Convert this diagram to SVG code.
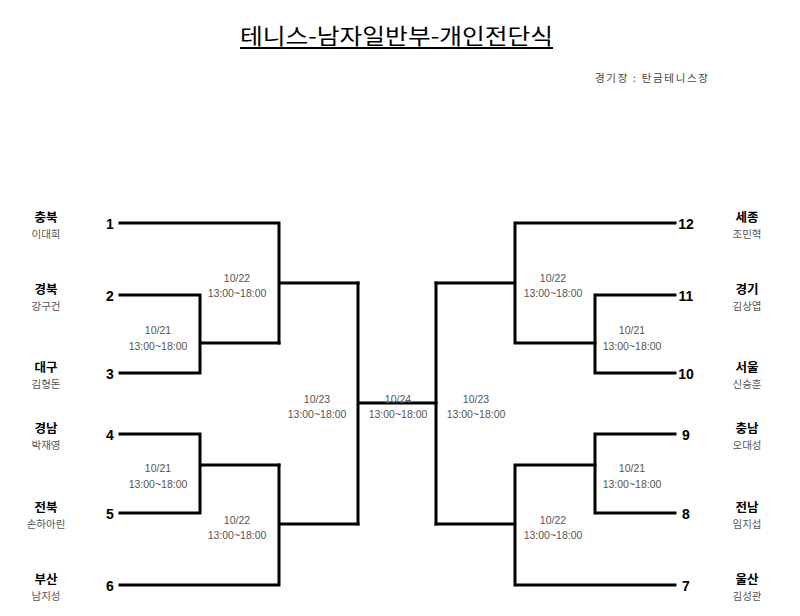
<svg xmlns="http://www.w3.org/2000/svg" width="800" height="616" viewBox="0 0 800 616">
<style>
.ln{fill:none;stroke:#000;stroke-width:3;stroke-linecap:square;stroke-linejoin:miter}
.ttl{font-family:"Noto Sans CJK KR","Noto Sans",sans-serif;font-size:22px;fill:#000}
.venue{font-family:"Noto Sans CJK KR","Noto Sans",sans-serif;font-size:10.5px;fill:#444}
.num{font-family:"Liberation Sans",Arial,sans-serif;font-size:14px;font-weight:bold;fill:#000;text-anchor:middle}
.reg{font-family:"Noto Sans CJK KR",sans-serif;font-size:12.5px;font-weight:bold;fill:#000;text-anchor:middle}
.per{font-family:"Noto Sans CJK KR",sans-serif;font-size:10.5px;fill:#555;text-anchor:middle}
.dt{font-family:"Liberation Sans",Arial,sans-serif;font-size:10.5px;fill:#555;text-anchor:middle}
</style>
<rect width="800" height="616" fill="#fff"/>
<g id="title">
<text class="ttl" x="240" y="44" textLength="313" lengthAdjust="spacingAndGlyphs">테니스-남자일반부-개인전단식</text>
<rect x="240" y="47" width="313" height="2" fill="#000"/>
<text class="venue" x="595" y="82" textLength="113" lengthAdjust="spacing">경기장 : 탄금테니스장</text>
</g>
<g id="connectors">
<path class="ln" d="M120,295 H200 V373 H120 M200,343 H279"/>
<path class="ln" d="M120,223 H279 V343 M279,283 H358"/>
<path class="ln" d="M120,434 H200 V513 H120 M200,465 H279"/>
<path class="ln" d="M120,585 H279 V465 M279,524 H358"/>
<path class="ln" d="M358,283 V524 M358,403 H436"/>
<path class="ln" d="M436,283 V524"/>
<path class="ln" d="M436,283 H515 M675,223 H515 V343 H595"/>
<path class="ln" d="M675,295 H595 V373 H675"/>
<path class="ln" d="M436,524 H515 M675,585 H515 V465 H595"/>
<path class="ln" d="M675,434 H595 V513 H675"/>
</g>
<g id="p1"><text class="reg" x="46" y="222">충북</text><text class="per" x="46" y="238">이대희</text><text class="num" x="110" y="229">1</text></g>
<g id="p2"><text class="reg" x="46" y="294">경북</text><text class="per" x="46" y="310">강구건</text><text class="num" x="110" y="301">2</text></g>
<g id="p3"><text class="reg" x="46" y="372">대구</text><text class="per" x="46" y="388">김형돈</text><text class="num" x="110" y="379">3</text></g>
<g id="p4"><text class="reg" x="46" y="433">경남</text><text class="per" x="46" y="449">박재영</text><text class="num" x="110" y="440">4</text></g>
<g id="p5"><text class="reg" x="46" y="512">전북</text><text class="per" x="46" y="528">손하아린</text><text class="num" x="110" y="519">5</text></g>
<g id="p6"><text class="reg" x="46" y="584">부산</text><text class="per" x="46" y="600">남지성</text><text class="num" x="110" y="591">6</text></g>
<g id="p12"><text class="reg" x="747" y="222">세종</text><text class="per" x="747" y="238">조민혁</text><text class="num" x="686" y="229">12</text></g>
<g id="p11"><text class="reg" x="747" y="294">경기</text><text class="per" x="747" y="310">김상엽</text><text class="num" x="686" y="301">11</text></g>
<g id="p10"><text class="reg" x="747" y="372">서울</text><text class="per" x="747" y="388">신승훈</text><text class="num" x="686" y="379">10</text></g>
<g id="p9"><text class="reg" x="747" y="433">충남</text><text class="per" x="747" y="449">오대성</text><text class="num" x="686" y="440">9</text></g>
<g id="p8"><text class="reg" x="747" y="512">전남</text><text class="per" x="747" y="528">임지섭</text><text class="num" x="686" y="519">8</text></g>
<g id="p7"><text class="reg" x="747" y="584">울산</text><text class="per" x="747" y="600">김성관</text><text class="num" x="686" y="591">7</text></g>
<g id="dates">
<text class="dt" x="237" y="282">10/22</text><text class="dt" x="237" y="297">13:00~18:00</text>
<text class="dt" x="158" y="334">10/21</text><text class="dt" x="158" y="350">13:00~18:00</text>
<text class="dt" x="158" y="472">10/21</text><text class="dt" x="158" y="488">13:00~18:00</text>
<text class="dt" x="237" y="524">10/22</text><text class="dt" x="237" y="539">13:00~18:00</text>
<text class="dt" x="317" y="403">10/23</text><text class="dt" x="317" y="418">13:00~18:00</text>
<text class="dt" x="398" y="403">10/24</text><text class="dt" x="398" y="418">13:00~18:00</text>
<text class="dt" x="476" y="403">10/23</text><text class="dt" x="476" y="418">13:00~18:00</text>
<text class="dt" x="553" y="282">10/22</text><text class="dt" x="553" y="297">13:00~18:00</text>
<text class="dt" x="632" y="334">10/21</text><text class="dt" x="632" y="350">13:00~18:00</text>
<text class="dt" x="632" y="472">10/21</text><text class="dt" x="632" y="488">13:00~18:00</text>
<text class="dt" x="553" y="524">10/22</text><text class="dt" x="553" y="539">13:00~18:00</text>
</g>
</svg>
